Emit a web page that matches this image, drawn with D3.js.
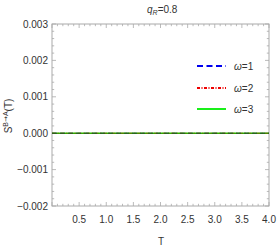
<!DOCTYPE html>
<html><head><meta charset="utf-8">
<script src="https://cdn.jsdelivr.net/npm/d3@7"></script>
<style>body{margin:0;background:#fff}svg{display:block}text{font-family:"Liberation Sans",Arial,sans-serif}</style>
</head><body>
<script>
const W=277,H=249;
const tValues=[0.0,0.5,1.0,1.5,2.0,2.5,3.0,3.5,4.0];
const omega1=[0,0,0,0,0,0,0,0,0];
const omega2=[0,0,0,0,0,0,0,0,0];
const omega3=[0,0,0,0,0,0,0,0,0];
const seriesNames=["ω=1","ω=2","ω=3"];
const xTicks=[0.5,1.0,1.5,2.0,2.5,3.0,3.5,4.0];
const yTicks=[-0.002,-0.001,0.000,0.001,0.002,0.003];
const m={l:52,r:8,t:24,b:43};
const svg=d3.select("body").append("svg").attr("width",W).attr("height",H);
const x=d3.scaleLinear().domain([0,4]).range([m.l,W-m.r]);
const y=d3.scaleLinear().domain([-0.002,0.003]).range([H-m.b,m.t]);
const frameCol="#aaaaaa";
svg.append("rect").attr("x",x(0)).attr("y",y(0.003)).attr("width",x(4)-x(0)).attr("height",y(-0.002)-y(0.003)).attr("fill","none").attr("stroke",frameCol).attr("stroke-width",1);
const xMinor=d3.range(0,41).map(d=>d/10);
const yMinor=d3.range(-10,16).map(d=>d*0.0002);
const g=svg.append("g").attr("stroke",frameCol).attr("stroke-width",0.8);
xMinor.forEach(v=>{
  const major=Math.abs(v*2-Math.round(v*2))<1e-6;
  const L=major?4:2.2;
  g.append("line").attr("x1",x(v)).attr("x2",x(v)).attr("y1",y(-0.002)).attr("y2",y(-0.002)-L);
  g.append("line").attr("x1",x(v)).attr("x2",x(v)).attr("y1",y(0.003)).attr("y2",y(0.003)+L);
});
yMinor.forEach(v=>{
  const major=Math.abs(v*1000-Math.round(v*1000))<1e-6;
  const L=major?4:2.2;
  g.append("line").attr("y1",y(v)).attr("y2",y(v)).attr("x1",x(0)).attr("x2",x(0)+L);
  g.append("line").attr("y1",y(v)).attr("y2",y(v)).attr("x1",x(4)).attr("x2",x(4)-L);
});
svg.append("g").selectAll("text").data(xTicks).join("text")
  .attr("x",d=>x(d)).attr("y",y(-0.002)+17).attr("text-anchor","middle")
  .attr("font-size",10).attr("fill","#333").text(d=>d.toFixed(1));
svg.append("g").selectAll("text").data(yTicks).join("text")
  .attr("x",x(0)-4).attr("y",d=>y(d)+3.5).attr("text-anchor","end")
  .attr("font-size",10).attr("fill","#333").text(d=>(d<0?"\u2212":"")+Math.abs(d).toFixed(3));
const line=d3.line().x((d,i)=>x(tValues[i])).y(d=>y(d));
svg.append("path").datum(omega3).attr("d",line).attr("fill","none").attr("stroke","#22bb00").attr("stroke-width",1.6);
svg.append("path").datum(omega2).attr("d",line).attr("fill","none").attr("stroke","#aa2200").attr("stroke-width",1.6).attr("stroke-dasharray","4,1.5,1.5,1.5").attr("opacity",0.35);
svg.append("path").datum(omega1).attr("d",line).attr("fill","none").attr("stroke","#1a3a33").attr("stroke-width",1.6).attr("stroke-dasharray","5,3").attr("opacity",0.55);
const legY=[66,88,109];
const legStyles=[{c:"#0000ee",da:"6,3.5"},{c:"#ee0000",da:"3,1.5,1,1.5"},{c:"#00ee00",da:null}];
legStyles.forEach((s,i)=>{
  const l=svg.append("line").attr("x1",197).attr("x2",226).attr("y1",legY[i]).attr("y2",legY[i]).attr("stroke",s.c).attr("stroke-width",1.8);
  if(s.da) l.attr("stroke-dasharray",s.da);
  const t=svg.append("text").attr("x",234).attr("y",legY[i]+4).attr("font-size",10).attr("fill","#333");
  t.append("tspan").attr("font-style","italic").text("ω");
  t.append("tspan").text(seriesNames[i].slice(1));
});
const tt=svg.append("text").attr("x",147).attr("y",13).attr("font-size",10).attr("fill","#333");
tt.append("tspan").attr("font-style","italic").text("q");
tt.append("tspan").attr("font-style","italic").attr("font-size",7).attr("dy",2).text("R");
tt.append("tspan").attr("dy",-2).text("=0.8");
svg.append("text").attr("x",161).attr("y",245).attr("text-anchor","middle").attr("font-size",10).attr("fill","#333").text("T");
const yl=svg.append("text").attr("transform","translate(12,116) rotate(-90)").attr("text-anchor","middle").attr("font-size",10).attr("fill","#333");
yl.append("tspan").text("S");
yl.append("tspan").attr("font-size",7).attr("dy",-4).text("B");
yl.append("tspan").attr("font-size",7).attr("font-family","DejaVu Sans").text("\u2192");
yl.append("tspan").attr("font-size",7).text("A");
yl.append("tspan").attr("dy",4).text("(T)");
</script>
</body></html>
